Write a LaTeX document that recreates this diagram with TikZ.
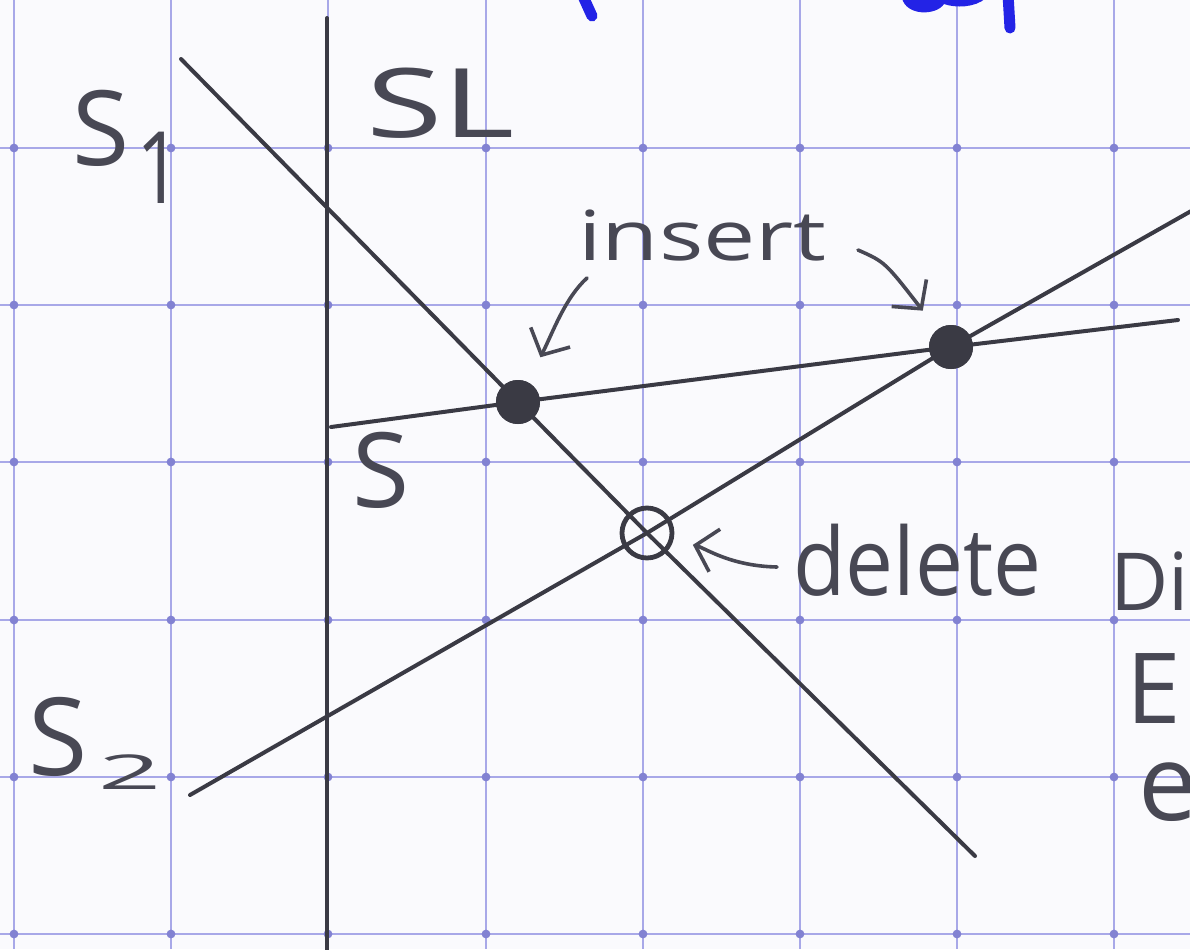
\documentclass[tikz,border=0pt]{standalone}
\usepackage{fontspec}
\setmainfont{Open Sans}
\usepackage{graphicx}
\usetikzlibrary{arrows.meta}
\definecolor{paper}{RGB}{250,250,253}
\definecolor{gridc}{RGB}{168,168,232}
\definecolor{gridx}{RGB}{130,130,210}
\definecolor{pencil}{RGB}{58,58,68}
\definecolor{hw}{RGB}{72,72,84}
\definecolor{ink}{RGB}{35,35,230}
\tikzset{
  gridline/.style={draw=gridc, line width=1.3pt},
  pencilline/.style={draw=pencil, line width=2pt, line cap=round, line join=round},
  dotfill/.style={circle, fill=pencil, draw=pencil, line width=1pt, minimum size=21pt, inner sep=0pt},
  ocircle/.style={circle, draw=pencil, line width=2.4pt, minimum size=25pt, inner sep=0pt},
  hand/.style={text=hw, inner sep=0pt, anchor=base west},
  handarrow/.style={draw=hw, line width=1.8pt, line cap=round, line join=round,
    -{Straight Barb[length=10pt,width=22pt,line width=1.8pt]}},
  inkstroke/.style={draw=ink, line width=5.5pt, line cap=round},
}
\begin{document}
\begin{tikzpicture}[x=0.5pt,y=-0.5pt]
\useasboundingbox (0,0) rectangle (1190,949);
\clip (0,0) rectangle (1190,949);
\fill[paper] (0,0) rectangle (1190,949);
% graph paper
\foreach \gx in {14,171,328,486,643,800,957,1114}
  \draw[gridline] (\gx,0) -- (\gx,949);
\foreach \gy in {148,305,462,620,777,934}
  \draw[gridline] (0,\gy) -- (1190,\gy);
\foreach \gx in {14,171,328,486,643,800,957,1114}
  \foreach \gy in {148,305,462,620,777,934}
    \fill[gridx] (\gx,\gy) circle (2.2pt);
% blue fragments at the top edge
\draw[inkstroke] (582,-6) -- (592,16);
\fill[ink] (902,-2) .. controls (906,16) and (936,16) .. (944,4)
  .. controls (955,8) and (975,8) .. (986,-2) -- cycle;
\draw[inkstroke] (1008,-6) -- (1010,28);
% points
\node[dotfill] (ins1) at (518,402) {};
\node[dotfill] (ins2) at (951,347) {};
\node[ocircle] (del) at (647,533) {};
% line end points
\coordinate (sla) at (327,18);
\coordinate (slb) at (327,960);
\coordinate (s1a) at (181,59);
\coordinate (s1b) at (975,856);
\coordinate (s2a) at (190,795);
\coordinate (s2b) at (1200,206);
\coordinate (sa) at (331,427);
\coordinate (sb) at (1178,320);
% lines
\draw[pencilline] (sla) -- (slb);
\draw[pencilline] (s1a) -- (ins1.center) -- (del.center) -- (s1b);
\draw[pencilline] (s2a) -- (del.center) -- (ins2.center) -- (s2b);
\draw[pencilline] (sa) -- (ins1.center) -- (ins2.center) -- (sb);
% redraw points on top
\node[dotfill] at (ins1) {};
\node[dotfill] at (ins2) {};
% labels
\node[hand, font=\fontsize{52}{52}\selectfont] (s1lbl) at (72,165) {S};
\node[hand, font=\fontsize{50}{50}\selectfont] (s1sub) at (136,203) {\scalebox{0.8}[1]{1}};
\node[hand, font=\fontsize{48}{48}\selectfont] (sllbl) at (366,137) {\scalebox{1.45}[1]{SL}};
\node[hand, font=\fontsize{52}{52}\selectfont] (slbl) at (352,507) {S};
\node[hand, font=\fontsize{54}{54}\selectfont] (s2lbl) at (28,775) {S};
\node[hand, font=\fontsize{24}{24}\selectfont] (s2sub) at (98,789) {\scalebox{2.3}[1]{2}};
\node[hand, font=\fontsize{34.5}{40}\selectfont] (instxt) at (578,260) {\scalebox{1.35}[1]{insert}};
\node[hand, font=\fontsize{47}{50}\selectfont] (deltxt) at (793,595) {\scalebox{0.91}[1]{delete}};
\node[hand, font=\fontsize{40}{40}\selectfont] (ditxt) at (1110,610) {Di};
\node[hand, font=\fontsize{49}{49}\selectfont] (etxt) at (1126,723) {E};
\node[hand, font=\fontsize{53}{53}\selectfont] (e2txt) at (1138,820) {e};
% annotation arrows
\coordinate (a1s) at (587,278);
\coordinate (a2s) at (858,250);
\coordinate (a3s) at (777,567);
\draw[handarrow, shorten >=14pt] (a1s) .. controls (565,298) and (553,332) .. (ins1);
\draw[handarrow, shorten >=12pt] (a2s) .. controls (885,262) .. (ins2);
\draw[handarrow, shorten >=10pt] (a3s) .. controls (730,566) and (705,548) .. (del);
\end{tikzpicture}
\end{document}
